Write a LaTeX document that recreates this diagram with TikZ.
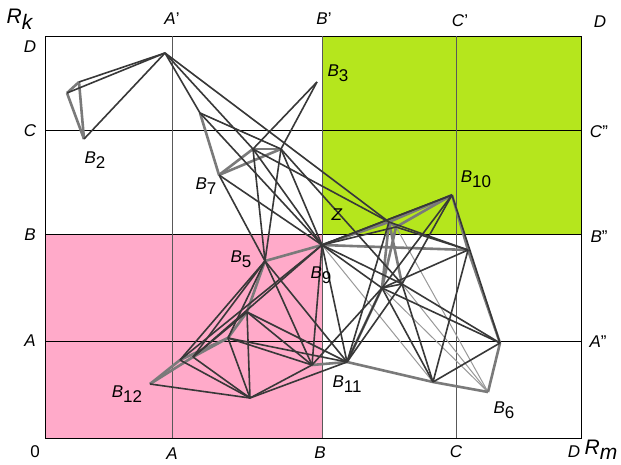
\documentclass[tikz,border=0pt]{standalone}
\usepackage{fontspec}
\setmainfont{Liberation Sans}
\begin{document}
\begin{tikzpicture}[x=1pt,y=-1pt,
  grid/.style={draw=black, line width=0.9pt},
  vgrid/.style={draw=black!65, line width=0.9pt},
  ed/.style={draw=black!78, line width=1.6pt},
  eg/.style={draw=black!52, line width=2.6pt},
  el/.style={draw=black!40, line width=1pt},
  pt/.style={inner sep=0pt, minimum size=0pt},
  lab/.style={inner sep=0pt, font=\fontsize{17}{17}\selectfont},
  big/.style={inner sep=0pt, font=\fontsize{21}{21}\selectfont}]
\useasboundingbox (0,0) rectangle (621,465);
\fill[white] (0,0) rectangle (621,465);
% coloured regions
\fill[fill={rgb,255:red,181;green,230;blue,29}] (322,36) rectangle (581,234);
\fill[fill={rgb,255:red,255;green,170;blue,201}] (45,234) rectangle (322,438);
% grid
\draw[grid] (45,36) rectangle (581,438);
\draw[grid] (45,130) -- (581,130);
\draw[grid] (45,234) -- (581,234);
\draw[grid] (45,341) -- (581,341);
\draw[vgrid] (172,36) -- (172,438);
\draw[vgrid] (322,36) -- (322,438);
\draw[vgrid] (456,36) -- (456,438);
% axis labels
\node[big] (rk) at (20,19) {\textit{R}\raisebox{-6pt}{\textit{k}}};
\node[lab] (lD) at (30,47) {\textit{D}};
\node[lab] (lC) at (30,131) {\textit{C}};
\node[lab] (lB) at (30,235) {\textit{B}};
\node[lab] (lA) at (30,341) {\textit{A}};
\node[lab] (tA) at (172,19) {\textit{A}'};
\node[lab] (tB) at (324,19) {\textit{B}'};
\node[lab] (tC) at (460,21) {\textit{C}'};
\node[lab] (tD) at (600,22) {\textit{D}};
\node[lab] (rC) at (599,132) {\textit{C}''};
\node[lab] (rB) at (599,237) {\textit{B}''};
\node[lab] (rA) at (598,342) {\textit{A}''};
\node[lab] (b0) at (35,452) {0};
\node[lab] (bA) at (172,454) {\textit{A}};
\node[lab] (bB) at (320,453) {\textit{B}};
\node[lab] (bC) at (456,452) {\textit{C}};
\node[lab] (bD) at (574,452) {\textit{D}};
\node[big] (rm) at (601,450) {\textit{R}\raisebox{-5pt}{\textit{m}}};
% network points
\foreach \n/\x/\y in {n1/165/53, ba/67/93, bb/79/82, bc/84/139, b3/317/82,
  pa/200/113, pb/253/149, pc/281/149, b7/219/175, b9/322/245, b5/265/261,
  za/389/222, zb/396/227, b10/452/195, r1/468/250, c1/382/288, c2/402/284,
  a2/500/343, b6/488/392, d1/433/382, b11/347/362, e1/312/365,
  q1/247/312, q2/228/338, q3/180/360, q4/193/357, b12/150/384, bt/250/398}
  \coordinate (\n) at (\x,\y);
% thin light edges
\foreach \a/\b in {c1/b6, zb/b6, b9/d1, c2/b6, n1/zb}
  \draw[el] (\a) -- (\b);
% thick grey edges
\foreach \a/\b in {ba/bb, ba/bc, bb/bc, pa/b7, b7/pc, pb/pc, b7/pb, b5/b9, za/b10,
  zb/b10, b9/za, b9/r1, za/c1, zb/c1, za/c2, b10/r1, r1/a2, b11/d1, d1/b6, b6/a2,
  e1/b11, b12/q3, q3/q2, q2/q1, q1/b5, b12/q4, q4/q2, b11/c1, za/zb}
  \draw[eg] (\a) -- (\b);
% dark edges
\foreach \a/\b in {n1/ba, n1/bb, n1/bc, n1/pa, n1/pb, n1/za, pa/pc, pa/b9,
  pb/b3, pc/b3, pb/b5, pc/b5, pb/b9, pc/b9, b7/b9, pb/za, pc/c2,
  b9/b10, b9/c1, b9/c2, b9/zb, b10/c1, b10/c2, b10/b9, zb/r1, za/r1, c1/c2,
  c1/a2, c2/a2, b10/a2, c1/d1, c2/d1, d1/a2, c1/b11, c2/b11, za/b11, r1/c1,
  b9/b11, b5/b11, b5/e1, b9/e1, b5/q3, b5/q4, b9/q3, b9/q4, q1/e1, q2/e1,
  q1/b11, q2/b11, q1/bt, q2/bt, q3/bt, q4/bt, b12/bt, bt/e1, bt/b11,
  q4/q1, e1/c1, q2/b5, b5/b7, r1/d1}
  \draw[ed] (\a) -- (\b);
% node labels
\node[lab] (Lb2) at (95,160) {\textit{B}\raisebox{-5pt}{2}};
\node[lab] (Lb3) at (338,73) {\textit{B}\raisebox{-5pt}{3}};
\node[lab] (Lb7) at (206,186) {\textit{B}\raisebox{-5pt}{7}};
\node[lab] (Lz) at (337,215) {\textit{Z}};
\node[lab] (Lb10) at (476,179) {\textit{B}\raisebox{-5pt}{10}};
\node[lab] (Lb5) at (241,259) {\textit{B}\raisebox{-5pt}{5}};
\node[lab] (Lb9) at (321,275) {\textit{B}\raisebox{-5pt}{9}};
\node[lab] (Lb12) at (127,394) {\textit{B}\raisebox{-5pt}{12}};
\node[lab] (Lb11) at (347,384) {\textit{B}\raisebox{-5pt}{11}};
\node[lab] (Lb6) at (504,410) {\textit{B}\raisebox{-5pt}{6}};
\end{tikzpicture}
\end{document}
